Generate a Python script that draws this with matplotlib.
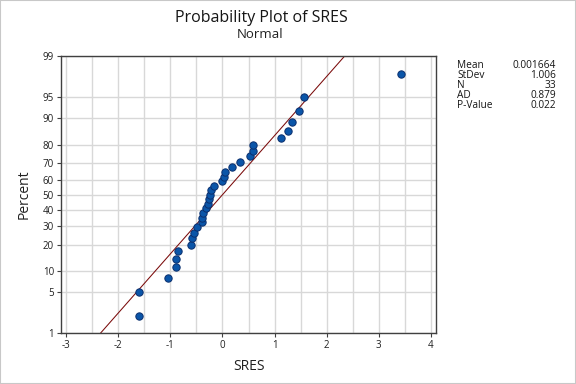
import matplotlib
matplotlib.use("Agg")
import matplotlib.pyplot as plt
from matplotlib.patches import Rectangle
from statistics import NormalDist
import numpy as np

plt.rcParams['font.family'] = ['Open Sans', 'DejaVu Sans']

# Data (sorted standardized residuals)
sres = [-1.60, -1.60, -1.04, -0.90, -0.90, -0.85, -0.61, -0.58, -0.55, -0.48,
        -0.40, -0.39, -0.37, -0.31, -0.28, -0.26, -0.24, -0.22, -0.16, -0.01,
        0.03, 0.04, 0.19, 0.33, 0.52, 0.58, 0.58, 1.12, 1.26, 1.33,
        1.47, 1.56, 3.42]
mean_val = 0.001664
stdev_val = 1.006
stat_names = ["Mean", "StDev", "N", "AD", "P-Value"]
stat_values = ["0.001664", "1.006", "33", "0.879", "0.022"]
y_ticks_pct = [1, 5, 10, 20, 30, 40, 50, 60, 70, 80, 90, 95, 99]
x_ticks = [-3, -2, -1, 0, 1, 2, 3, 4]

nd = NormalDist()
n = len(sres)
# Median-rank plotting positions (Benard)
pct = [(i - 0.3) / (n + 0.4) for i in range(1, n + 1)]
zq = [nd.inv_cdf(p) for p in pct]

fig = plt.figure(figsize=(5.76, 3.84), dpi=100)
fig.patch.set_facecolor('white')
fig.patches.append(Rectangle((0, 0), 1, 1, transform=fig.transFigure,
                             fill=False, edgecolor='#c8c8c8', linewidth=1.5))

ax = fig.add_axes([61/576, 1-333/384, (436-61)/576, (333-56)/384])

zlo, zhi = nd.inv_cdf(0.01), nd.inv_cdf(0.99)
ax.set_ylim(zlo, zhi + 0.005)
ax.set_xlim(-3.1, 4.1)

# grid
for xv in np.arange(-3, 4.01, 0.5):
    ax.axvline(xv, color='#d8d8d8', lw=1.0, zorder=0)
for p in y_ticks_pct:
    ax.axhline(nd.inv_cdf(p/100), color='#d8d8d8', lw=1.0, zorder=0)

# fitted line
fit_p = [0.01, 0.99]
fit_z = [nd.inv_cdf(p) for p in fit_p]
fit_x = [mean_val + stdev_val * z for z in fit_z]
ax.plot(fit_x, fit_z, color='#7a0a0a', lw=0.75, zorder=2)

ax.scatter(sres, zq, s=28, color='#0a55a8', edgecolor='#0a2f6e',
           linewidth=0.7, zorder=3)

ax.set_yticks([nd.inv_cdf(p/100) for p in y_ticks_pct])
ax.set_yticklabels([str(p) for p in y_ticks_pct])
ax.set_xticks(x_ticks)
ax.set_xticklabels([str(v) for v in x_ticks])
ax.tick_params(axis='both', labelsize=7, length=3, width=0.8,
               color='#404040', labelcolor='#202020', pad=2)
for s in ax.spines.values():
    s.set_color('#404040')
    s.set_linewidth(1.0)

ax.set_xlabel("SRES", fontsize=10, color='#202020', labelpad=6)
ax.set_ylabel("Percent", fontsize=10, color='#202020', labelpad=8)

fig.text(261/576, 1-18/384, "Probability Plot of SRES", ha='center',
         va='center', fontsize=11.5, color='#151515', fontweight='medium')
fig.text(260/576, 1-34/384, "Normal", ha='center', va='center',
         fontsize=9.5, color='#202020')

for k, (nm, vl) in enumerate(zip(stat_names, stat_values)):
    yy = 1 - (66 + 10*k)/384
    fig.text(457/576, yy, nm, ha='left', va='center', fontsize=7.3, color='#151515')
    fig.text(556/576, yy, vl, ha='right', va='center', fontsize=7.3, color='#151515')

fig.savefig("out.png", dpi=100)
